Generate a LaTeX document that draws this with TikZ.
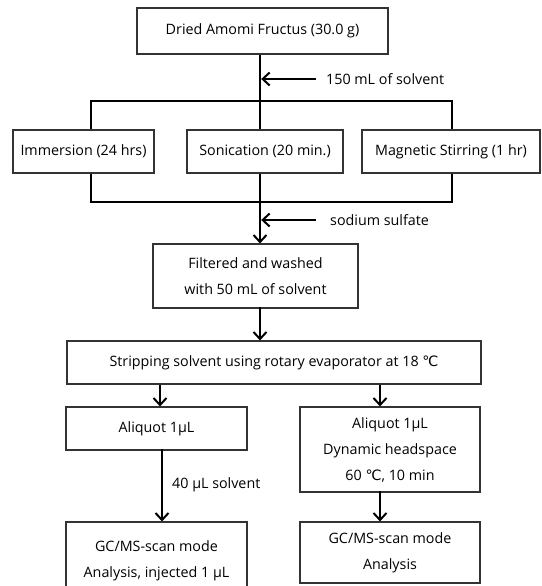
\documentclass[tikz,border=0pt]{standalone}
\usepackage{fontspec}
\setmainfont{Open Sans}
\newfontfamily\symfont{DejaVu Sans}
\newcommand{\degc}{{\symfont ℃}}
\usetikzlibrary{arrows.meta}
\begin{document}
\begin{tikzpicture}[x=1pt,y=-1pt,
  box/.style={draw=black!80, line width=1.1pt, inner sep=0pt, align=center, font=\fontsize{14.3}{26}\selectfont},
  lbl/.style={inner sep=0pt, anchor=west, font=\fontsize{14.3}{26}\selectfont},
  conn/.style={line width=2.4pt, black},
  arr/.style={conn, -{Straight Barb[length=7pt,width=13pt,line width=2pt]}}]
\clip (0,0) rectangle (541,586);
\useasboundingbox (0,0) rectangle (541,586);
% boxes
\node[box, minimum width=251pt, minimum height=46pt] (top) at (262.5,31) {Dried Amomi Fructus (30.0 g)};
\node[box, minimum width=141pt, minimum height=43pt] (imm) at (83.5,151.5) {Immersion (24 hrs)};
\node[box, minimum width=156pt, minimum height=43pt] (son) at (265,151.5) {Sonication (20 min.)};
\node[box, minimum width=178pt, minimum height=43pt] (mag) at (451,151.5) {Magnetic Stirring (1 hr)};
\node[box, minimum width=205pt, minimum height=64pt] (fil) at (255.5,276) {Filtered and washed\\with 50 mL of solvent};
\node[box, minimum width=414pt, minimum height=43pt] (str) at (274,362.5) {Stripping solvent using rotary evaporator at 18 \degc};
\node[box, minimum width=181pt, minimum height=43pt] (al1) at (156.5,428.5) {Aliquot 1µL};
\node[box, minimum width=180pt, minimum height=85pt] (al2) at (390,449.5) {Aliquot 1µL\\Dynamic headspace\\60 \degc, 10 min};
\node[box, minimum width=181pt, minimum height=78pt] (gc1) at (156.5,561) {GC/MS-scan mode\\Analysis, injected 1 µL};
\node[box, minimum width=180pt, minimum height=61pt] (gc2) at (390,552.5) {GC/MS-scan mode\\Analysis};
% labels
\node[lbl] (l1) at (326,79) {150 mL of solvent};
\node[lbl] (l2) at (330,220) {sodium sulfate};
\node[lbl] (l3) at (172,485) {40 µL solvent};
% junction coordinates
\coordinate (t1) at (260,101);
\coordinate (bl) at (91,101);
\coordinate (br) at (452,101);
\coordinate (t2) at (260,202);
\coordinate (cl) at (91,202);
\coordinate (cr) at (452,202);
\coordinate (a1) at (316,79);
\coordinate (a2) at (316,220);
\coordinate (c1) at (160,384);
\coordinate (c2) at (380,384);
\coordinate (c3) at (162,450);
% connectors
\draw[conn] (top.south -| t1) -- (t1);
\draw[arr] (a1) -- ([xshift=1.2pt]a1 -| t1);
\draw[conn, line cap=rect] (bl) -- (br);
\draw[conn] (bl) -- (imm.north -| bl);
\draw[conn] (t1) -- (son.north -| t1);
\draw[conn] (br) -- (mag.north -| br);
\draw[conn] (imm.south -| cl) -- (cl);
\draw[conn] (son.south -| t2) -- (t2);
\draw[conn] (mag.south -| cr) -- (cr);
\draw[conn, line cap=rect] (cl) -- (cr);
\draw[arr] (t2) -- (fil.north -| t2);
\draw[arr] (a2) -- ([xshift=1.2pt]a2 -| t2);
\draw[arr] ([yshift=2pt]fil.south -| t2) -- (str.north -| t2);
\draw[arr] (str.south -| c1) -- (al1.north -| c1);
\draw[arr] (str.south -| c2) -- (al2.north -| c2);
\draw[arr] ([yshift=2pt]al1.south -| c3) -- (gc1.north -| c3);
\draw[arr] ([yshift=2pt]al2.south -| c2) -- (gc2.north -| c2);
\end{tikzpicture}
\end{document}
